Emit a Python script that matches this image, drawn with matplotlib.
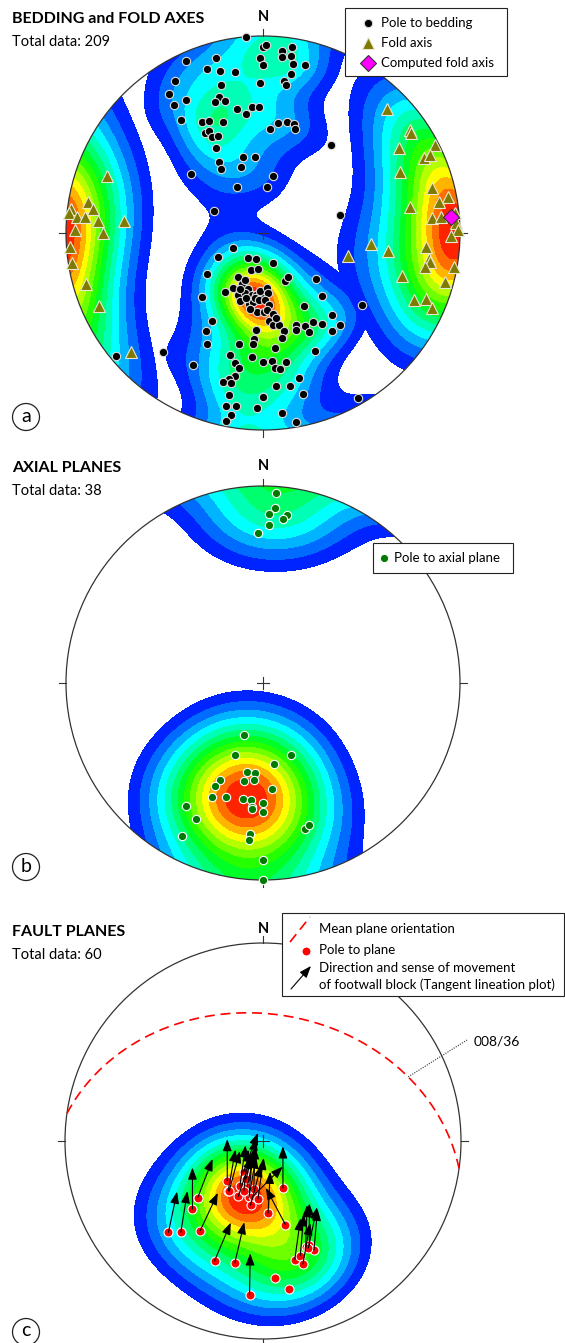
import numpy as np
import matplotlib
matplotlib.use("Agg")
import matplotlib.pyplot as plt
from matplotlib.colors import LinearSegmentedColormap
from matplotlib.patches import Circle, Rectangle

W, H = 565, 1343

# %% data: trend / plunge in degrees (lower hemisphere)
# (a) poles to bedding
BED_T = [355, 360, 336, 345, 341, 345, 350, 359, 330, 344, 359, 326, 342, 340, 344, 330, 325, 348, 352, 355,
         358, 331, 334, 340, 330, 332, 332, 335, 324, 331, 345, 354, 328, 327, 342, 309, 331, 294, 1, 6,
         9, 6, 9, 10, 14, 0, 10, 8, 9, 4, 8, 12, 16, 17, 38, 10, 5, 77, 230, 220,
         208, 224, 234, 242, 243, 210, 195, 198, 188, 210, 202, 195, 209, 213, 202, 197, 190, 186, 181, 199,
         191, 188, 184, 210, 210, 207, 184, 185, 185, 192, 195, 185, 192, 190, 191, 193, 195, 192, 192, 192,
         189, 182, 190, 191, 180, 202, 195, 187, 183, 190, 201, 183, 161, 155, 151, 131, 137, 176, 175, 151,
         140, 140, 126, 179, 176, 174, 170, 168, 160, 161, 156, 155, 151, 147, 145, 170, 174, 156, 180, 176,
         170, 175, 173, 166, 175, 170, 166, 180, 174, 170, 150, 178, 175, 177, 173, 171]
BED_P = [0, 6, 5, 9, 13, 16, 18, 12, 12, 23, 25, 16, 28, 30, 31, 23, 22, 36, 39, 36,
         36, 36, 37, 40, 41, 41, 44, 45, 30, 49, 57, 58, 55, 58, 61, 51, 68, 68, 5, 8,
         5, 11, 10, 14, 13, 16, 19, 23, 25, 46, 43, 42, 42, 44, 43, 66, 71, 57, 3, 22,
         25, 53, 61, 69, 76, 78, 79, 74, 75, 69, 67, 66, 64, 61, 62, 64, 64, 64, 63, 60,
         60, 61, 57, 47, 42, 37, 49, 45, 43, 42, 36, 37, 33, 31, 27, 25, 23, 23, 17, 11,
         12, 12, 7, 3, 18, 65, 62, 63, 62, 58, 69, 66, 77, 68, 69, 61, 54, 67, 65, 55,
         45, 39, 38, 57, 53, 51, 51, 48, 49, 47, 47, 44, 47, 44, 39, 45, 41, 35, 35, 35,
         34, 32, 31, 25, 23, 22, 17, 18, 9, 3, 4, 62, 60, 58, 56, 54]
# (a) fold axes
FOLD_T = [290, 280, 278, 277, 276, 275, 275, 274, 275, 271, 270, 45, 55, 56, 58, 63, 65, 65, 66, 75,
          79, 80, 80, 85, 85, 84, 87, 89, 266, 261, 254, 246, 228, 105, 96, 98, 107, 95, 99, 100,
          102, 100, 105, 91, 114, 112, 114]
FOLD_P = [17, 11, 14, 2, 1, 6, 10, 17, 30, 5, 20, 12, 10, 10, 20, 2, 11, 7, 25, 12,
          5, 10, 25, 15, 10, 2, 2, 1, 2, 2, 7, 10, 11, 53, 44, 36, 27, 18, 16, 15,
          17, 2, 5, 5, 17, 12, 7]
FOLD_MEAN = (85, 5)

# (b) poles to axial planes
AXP_T = [200, 201, 159, 172, 190, 185, 185, 204, 191, 205, 204, 198, 175, 190, 186, 185, 180, 185, 180, 212,
         206, 208, 164, 162, 185, 185, 180, 180, 4, 4, 2, 8, 7, 2, 358]
AXP_P = [67, 58, 58, 56, 52, 52, 49, 45, 48, 42, 37, 39, 45, 40, 40, 37, 39, 36, 35, 27,
         24, 13, 24, 25, 24, 21, 11, 0, 4, 12, 15, 15, 17, 21, 25]

# (c) poles to fault planes and direction of footwall movement (azimuth on the net)
FLT_T = [226, 222, 215, 226, 229, 222, 202, 193, 185, 157, 176, 165, 175, 170, 212, 215, 214, 207, 199, 195,
         204, 194, 190, 185, 191, 201, 191, 204, 165, 162, 162, 158, 156, 155, 157]
FLT_P = [34, 38, 44, 49, 54, 68, 35, 37, 23, 69, 60, 54, 31, 25, 75, 65, 65, 69, 70, 68,
         65, 66, 67, 66, 63, 68, 70, 73, 38, 39, 35, 42, 42, 39, 41]
SLIP_AZ = [12, 9, 25, 0, 21, 0, 23, 13, 1, 0, 3, 332, np.nan, np.nan, 20, 10, 15, 8, 12, 5,
           18, 10, 45, 8, 15, 6, 2, 14, 8, 5, 10, 2, 0, 5, 12]
MEAN_PLANE = (8, 36)  # dip direction / dip

cmap = LinearSegmentedColormap.from_list('net', ['#0000ff', '#00ffff', '#00ff00', '#ffff00', '#ff0000'])


def vec(t, p):
    t = np.radians(t); p = np.radians(p)
    return np.stack([np.sin(t)*np.cos(p), np.cos(t)*np.cos(p), np.sin(p)], axis=-1)


def proj(t, p):
    # Schmidt (equal area) projection, primitive radius 1
    r = np.sqrt(2)*np.sin(np.radians(90 - np.asarray(p, float))/2)
    t = np.radians(np.asarray(t, float))
    return r*np.sin(t), r*np.cos(t)


def kamb_grid(t, p, sigma=3, n_grid=301):
    g = np.linspace(-1, 1, n_grid)
    X, Y = np.meshgrid(g, g)
    R = np.clip(np.hypot(X, Y), 0, 1)
    P = 90 - 2*np.degrees(np.arcsin(R/np.sqrt(2)))
    T = np.degrees(np.arctan2(X, Y))
    gv = vec(T, P)
    dv = vec(np.asarray(t, float), np.asarray(p, float))
    n = len(t)
    f = 2*(1 + n/sigma**2)
    cosd = np.abs(gv @ dv.T)
    dens = np.exp(f*(cosd - 1)).sum(axis=-1)
    units = np.sqrt(n*(f/2 - 1)/f**2)
    return X, Y, dens/units


def contour(ax, t, p, lo, sigma=3, nb=14):
    X, Y, D = kamb_grid(t, p, sigma)
    levels = np.linspace(lo, D.max(), nb + 1)
    cs = ax.contourf(X, Y, D, levels=levels, cmap=cmap, zorder=1)
    cs.set_clip_path(Circle((0, 0), 1, transform=ax.transData))
    return cs


def great_circle(dd, dip):
    a = np.radians(np.linspace(0, 180, 361))
    s = vec(dd - 90, 0); d = vec(dd, dip)
    v = np.cos(a)[:, None]*s + np.sin(a)[:, None]*d
    t = np.degrees(np.arctan2(v[:, 0], v[:, 1]))
    p = np.degrees(np.arcsin(np.clip(v[:, 2], -1, 1)))
    return proj(t, p)


def net_axes(cy, R):
    ax = fig.add_axes([(263 - 1.1*R)/W, (H - cy - 1.1*R)/H, 2.2*R/W, 2.2*R/H])
    ax.set_xlim(-1.1, 1.1); ax.set_ylim(-1.1, 1.1)
    ax.axis('off')
    return ax


def frame(ax):
    k = dict(color='#333333', lw=0.8, zorder=6)
    ax.add_patch(Circle((0, 0), 1, fill=False, lw=0.9, ec='#333333', zorder=6))
    ax.plot([0, 0], [1, 1.035], **k)
    ax.plot([0, 0], [-1, -1.035], **k)
    ax.plot([-1.035, -1], [0, 0], **k)
    ax.plot([1, 1.035], [0, 0], **k)
    ax.plot([-0.03, 0.03], [0, 0], **k)
    ax.plot([0, 0], [-0.03, 0.03], **k)


pole_style = dict(ls='none', marker='o', ms=6, mfc='black', mec='#dddddd', mew=0.8)
fold_style = dict(ls='none', marker='^', ms=8, mfc='#7f7a00', mec='#e8e8d0', mew=0.8)
comp_style = dict(ls='none', marker='D', ms=8, mfc='#ff00ff', mec='#333333', mew=0.8)
axp_style = dict(ls='none', marker='o', ms=6, mfc='#007a00', mec='white', mew=0.8)
flt_style = dict(ls='none', marker='o', ms=6.5, mfc='#ff0000', mec='white', mew=0.8)
arrow_props = dict(arrowstyle='-|>,head_length=0.8,head_width=0.3', color='black', lw=0.8,
                   mutation_scale=9, shrinkA=0, shrinkB=0)

fig = plt.figure(figsize=(W/100, H/100), dpi=100)
plt.rcParams['font.family'] = ['Lato', 'DejaVu Sans']

# %% (a) bedding and fold axes
ax1 = net_axes(233, 197)
contour(ax1, BED_T, BED_P, 1.6)
contour(ax1, FOLD_T, FOLD_P, 2.1)
frame(ax1)
ax1.plot(*proj(BED_T, BED_P), zorder=8, **pole_style)
ax1.plot(*proj(FOLD_T, FOLD_P), zorder=8, **fold_style)
ax1.plot(*proj([FOLD_MEAN[0]], [FOLD_MEAN[1]]), zorder=9, **comp_style)

# %% (b) axial planes
ax2 = net_axes(683, 197)
contour(ax2, AXP_T, AXP_P, 2.2)
frame(ax2)
ax2.plot(*proj(AXP_T, AXP_P), zorder=8, **axp_style)

# %% (c) fault planes
ax3 = net_axes(1141, 198)
contour(ax3, FLT_T, FLT_P, 1.8, sigma=2.3)
frame(ax3)
x, y = proj(FLT_T, FLT_P)
az = np.radians(SLIP_AZ)
for xi, yi, a in zip(x, y, az):
    if np.isnan(a):
        continue
    ax3.annotate('', xy=(xi + 0.21*np.sin(a), yi + 0.21*np.cos(a)), xytext=(xi, yi),
                 arrowprops=arrow_props, zorder=9)
ax3.plot(x, y, zorder=8, **flt_style)
gx, gy = great_circle(*MEAN_PLANE)
ax3.plot(gx, gy, color='#ff0000', lw=1.2, ls=(0, (6, 3.5)), zorder=7)

# %% titles, legends, labels (figure pixel coordinates)
ov = fig.add_axes([0, 0, 1, 1])
ov.set_xlim(0, W); ov.set_ylim(H, 0)
ov.axis('off')

for ty, title, total in [(19, 'BEDDING and FOLD AXES', 209), (468, 'AXIAL PLANES', 38), (932, 'FAULT PLANES', 60)]:
    ov.text(12, ty, title, fontsize=11.5, fontweight='bold', va='center')
    ov.text(12, ty + 23, 'Total data: %d' % total, fontsize=10.5, va='center')
for ny in [17, 466, 929]:
    ov.text(263, ny, 'N', fontsize=10.5, fontweight='bold', ha='center', va='center')
for cy, letter in [(417, 'a'), (867, 'b'), (1332, 'c')]:
    ov.add_patch(Circle((26, cy), 13.5, fill=False, lw=0.9, ec='#222222'))
    ov.text(26, cy - 1, letter, fontsize=14, ha='center', va='center')

# leader to the mean plane
i = np.argmin(np.abs(np.degrees(np.arctan2(gx, gy)) - 66))
ov.plot([263 + 198*gx[i], 467], [1141 - 198*gy[i], 1040], color='#333333', lw=0.8, ls=(0, (1, 1.2)))
ov.text(474, 1042, '%03d/%02d' % MEAN_PLANE, fontsize=10, va='center')

# legend (a)
ov.add_patch(Rectangle((345, 8), 162, 68, fc='white', ec='#222222', lw=0.8))
ov.plot(368, 23, **pole_style)
ov.plot(368, 43, **fold_style)
ov.plot(368, 63, **comp_style)
for ly, lab in [(23, 'Pole to bedding'), (43, 'Fold axis'), (63, 'Computed fold axis')]:
    ov.text(381, ly, lab, fontsize=9.5, va='center')

# legend (b)
ov.add_patch(Rectangle((373, 543), 140, 30, fc='white', ec='#222222', lw=0.8))
ov.plot(384, 558, **axp_style)
ov.text(394, 558, 'Pole to axial plane', fontsize=9.5, va='center')

# legend (c)
ov.add_patch(Rectangle((282, 913), 282, 83, fc='white', ec='#222222', lw=0.8))
ov.plot([290, 310], [942, 917], color='#ff0000', lw=1.2, ls=(0, (6, 3.5)))
ov.plot(306, 951, ls='none', marker='o', ms=6.5, mfc='#ff0000', mec='white', mew=0.8)
ov.annotate('', xy=(311, 966), xytext=(291, 989), arrowprops=arrow_props)
ov.text(319, 929, 'Mean plane orientation', fontsize=9.5, va='center')
ov.text(319, 950, 'Pole to plane', fontsize=9.5, va='center')
ov.text(319, 968, 'Direction and sense of movement', fontsize=9.5, va='center')
ov.text(319, 985, 'of footwall block (Tangent lineation plot)', fontsize=9.5, va='center')

fig.savefig("out.png", dpi=100)
